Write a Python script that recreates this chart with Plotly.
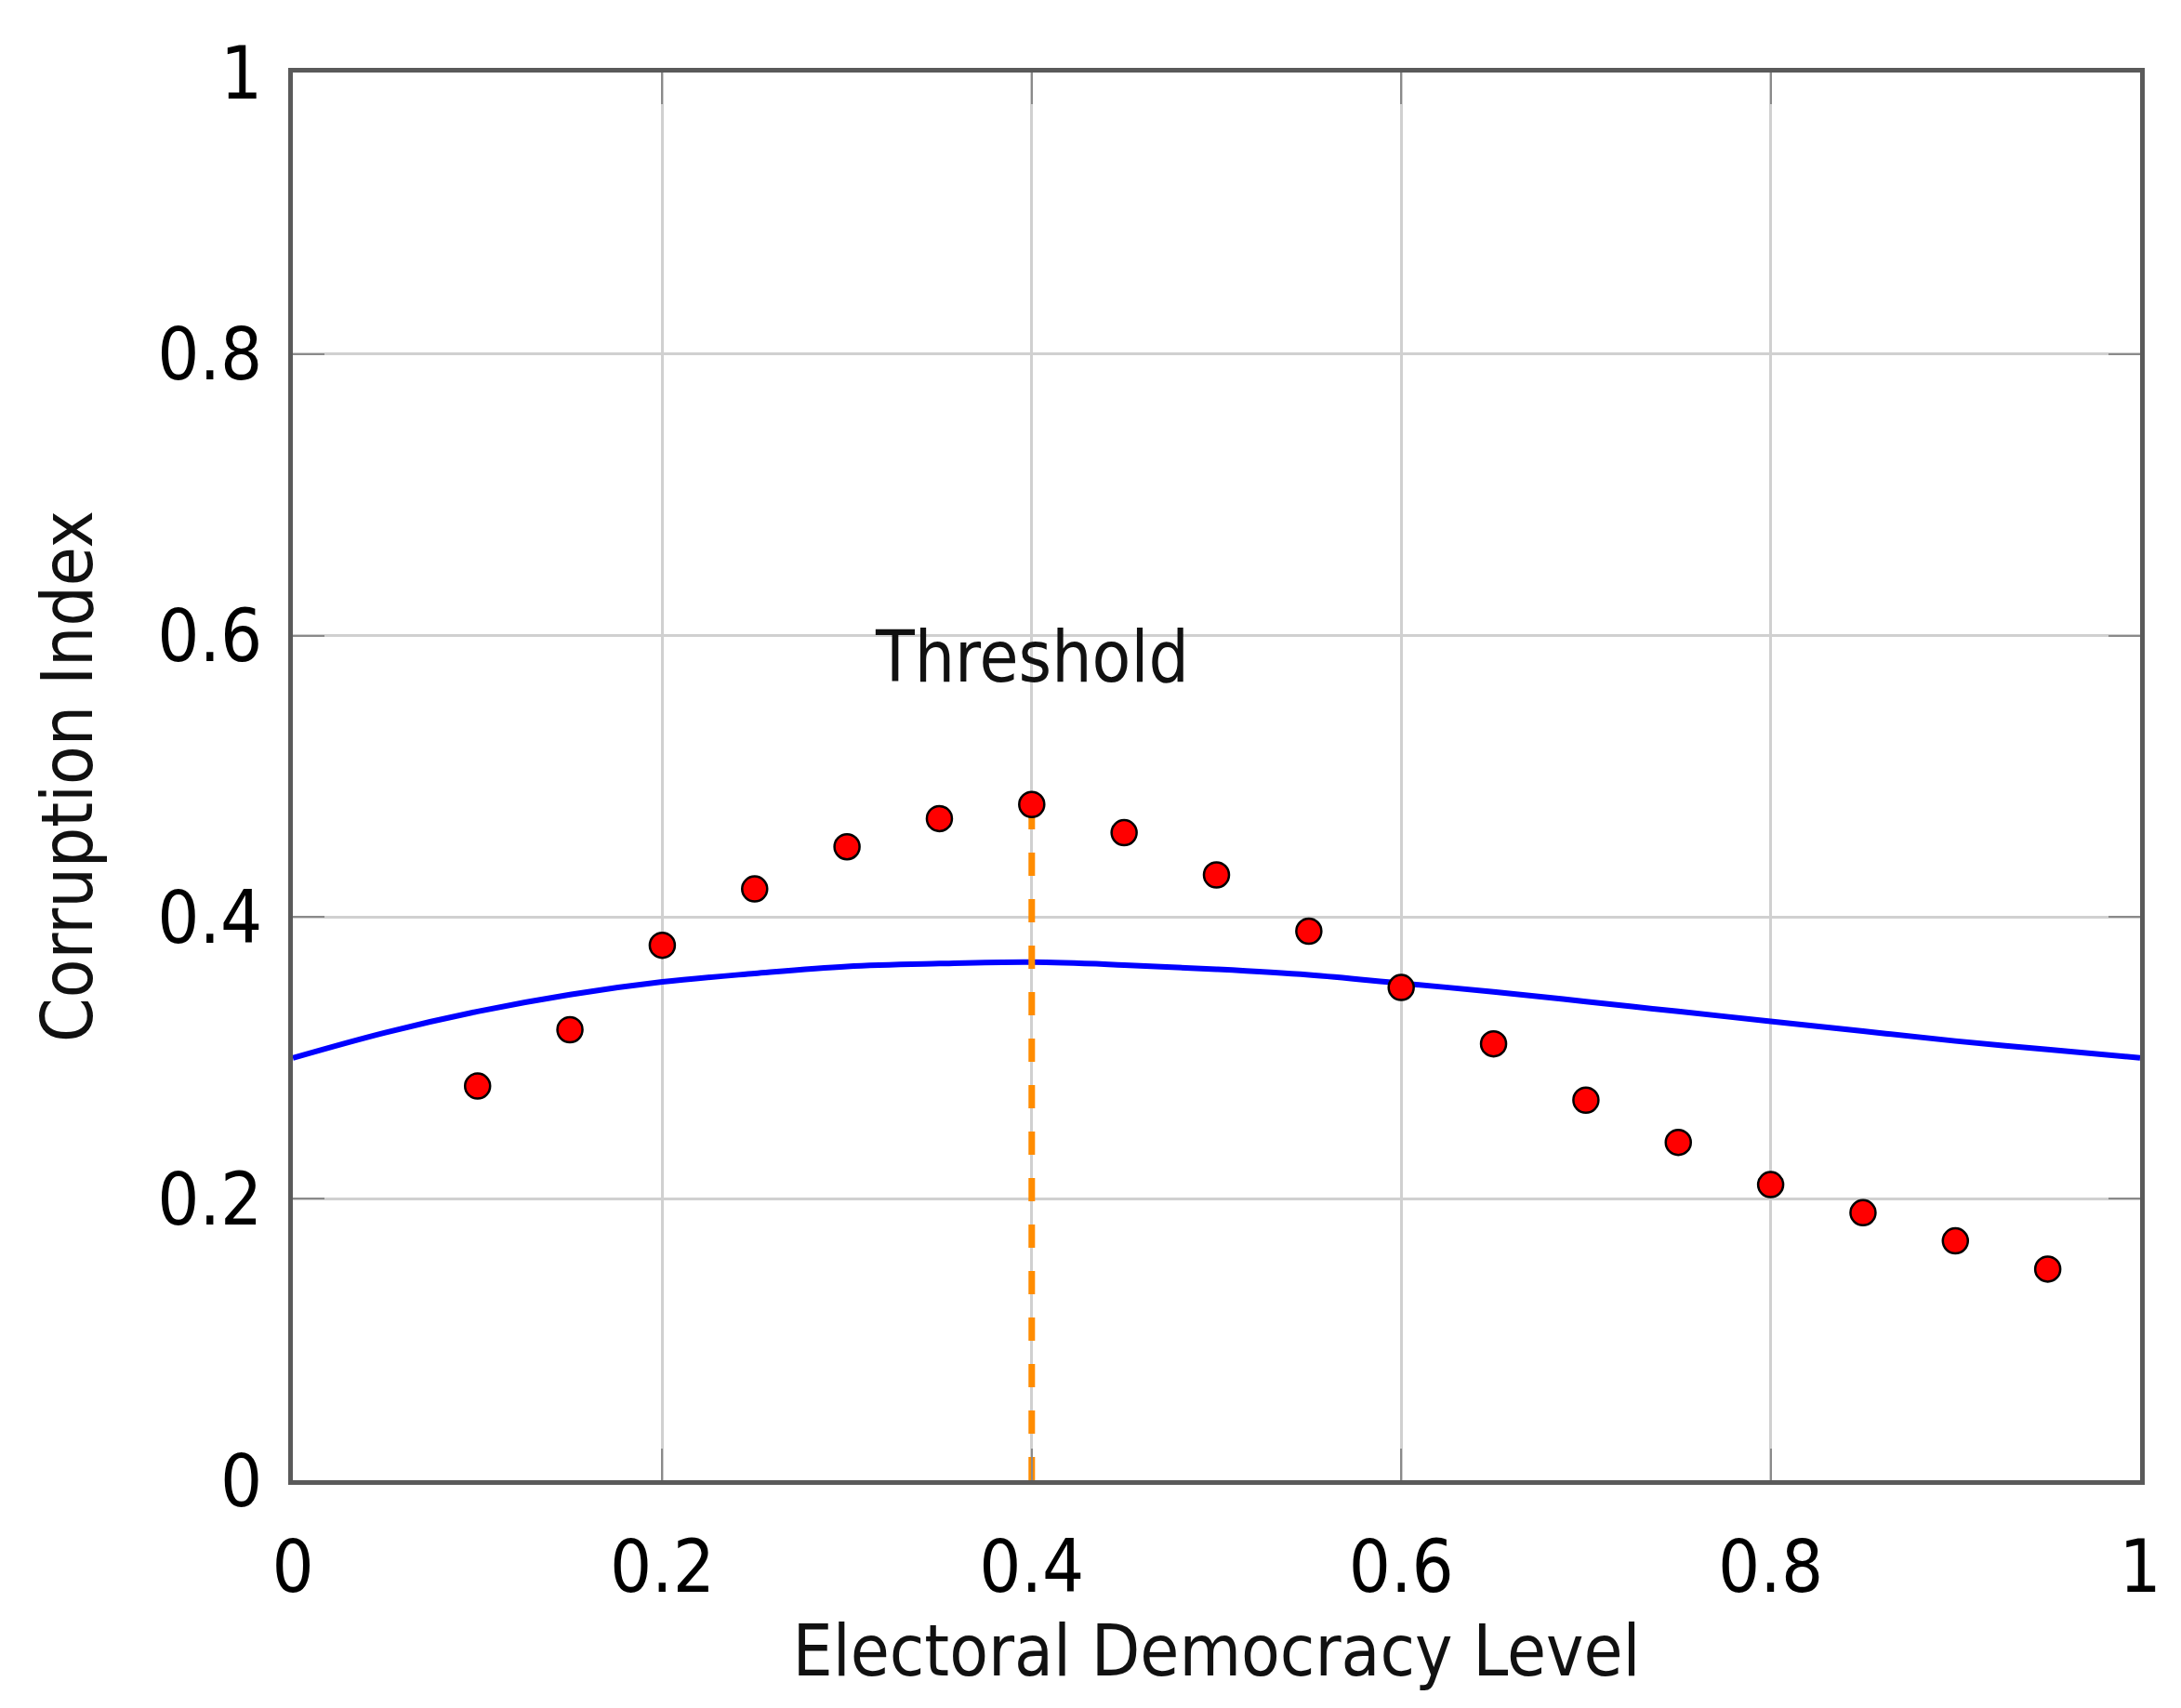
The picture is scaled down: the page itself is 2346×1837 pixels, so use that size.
import plotly.graph_objects as go

# Data
dem_level = [0.10, 0.15, 0.20, 0.25, 0.30, 0.35, 0.40, 0.45, 0.50, 0.55,
             0.60, 0.65, 0.70, 0.75, 0.80, 0.85, 0.90, 0.95]
corruption = [0.28, 0.32, 0.38, 0.42, 0.45, 0.47, 0.48, 0.46, 0.43, 0.39,
              0.35, 0.31, 0.27, 0.24, 0.21, 0.19, 0.17, 0.15]

curve_x = [0.00, 0.05, 0.10, 0.15, 0.20, 0.25, 0.30, 0.35, 0.40, 0.45, 0.50,
           0.55, 0.60, 0.65, 0.70, 0.75, 0.80, 0.85, 0.90, 0.95, 1.00]
curve_y = [0.300, 0.318, 0.333, 0.345, 0.354, 0.360, 0.365, 0.367, 0.368, 0.366, 0.363,
           0.359, 0.353, 0.347, 0.340, 0.333, 0.326, 0.319, 0.312, 0.306, 0.300]

threshold_x = [0.40, 0.40]
threshold_y = [0.00, 0.475]
threshold_label = "Threshold"
threshold_label_pos = (0.40, 0.585)

tick_vals = [0, 0.2, 0.4, 0.6, 0.8, 1]
tick_text = ["0", "0.2", "0.4", "0.6", "0.8", "1"]

FONT = "DejaVu Sans Condensed, Liberation Sans Narrow, sans-serif"

fig = go.Figure()
fig.add_trace(go.Scatter(x=curve_x, y=curve_y, mode="lines",
                         line=dict(color="#0000ff", width=6, shape="spline"),
                         showlegend=False, hoverinfo="skip"))
fig.add_trace(go.Scatter(x=threshold_x, y=threshold_y, mode="lines",
                         line=dict(color="#ff8c00", width=7, dash="25px,25px"),
                         showlegend=False, hoverinfo="skip"))
fig.add_trace(go.Scatter(x=dem_level, y=corruption, mode="markers",
                         marker=dict(color="#ff0000", size=27,
                                     line=dict(color="#000000", width=2.5)),
                         showlegend=False))

fig.add_annotation(x=threshold_label_pos[0], y=threshold_label_pos[1],
                   text=threshold_label, showarrow=False,
                   font=dict(family=FONT, size=76, color="#111111"),
                   xanchor="center", yanchor="middle")

axis_common = dict(
    range=[0, 1], tickvals=tick_vals, ticktext=tick_text,
    showline=True, linecolor="#5a5a5a", linewidth=5, mirror="ticks",
    ticks="inside", ticklen=34, tickwidth=2, tickcolor="#8a8a8a",
    showgrid=True, gridcolor="#d0d0d0", gridwidth=3, zeroline=False,
    tickfont=dict(family=FONT, size=79, color="#000000"),
)

fig.update_xaxes(**axis_common,
                 title=dict(text="Electoral Democracy Level", standoff=12,
                            font=dict(family=FONT, size=76, color="#111111")),
                 ticklabelstandoff=20)
fig.update_yaxes(**axis_common,
                 title=dict(text="Corruption Index", standoff=46,
                            font=dict(family=FONT, size=76, color="#111111")),
                 ticklabelstandoff=12)

fig.update_layout(
    width=2346, height=1837, autosize=False,
    margin=dict(l=307, r=52, t=70, b=253),
    paper_bgcolor="white", plot_bgcolor="white",
    font=dict(family=FONT),
)

fig.write_html("out.html")
